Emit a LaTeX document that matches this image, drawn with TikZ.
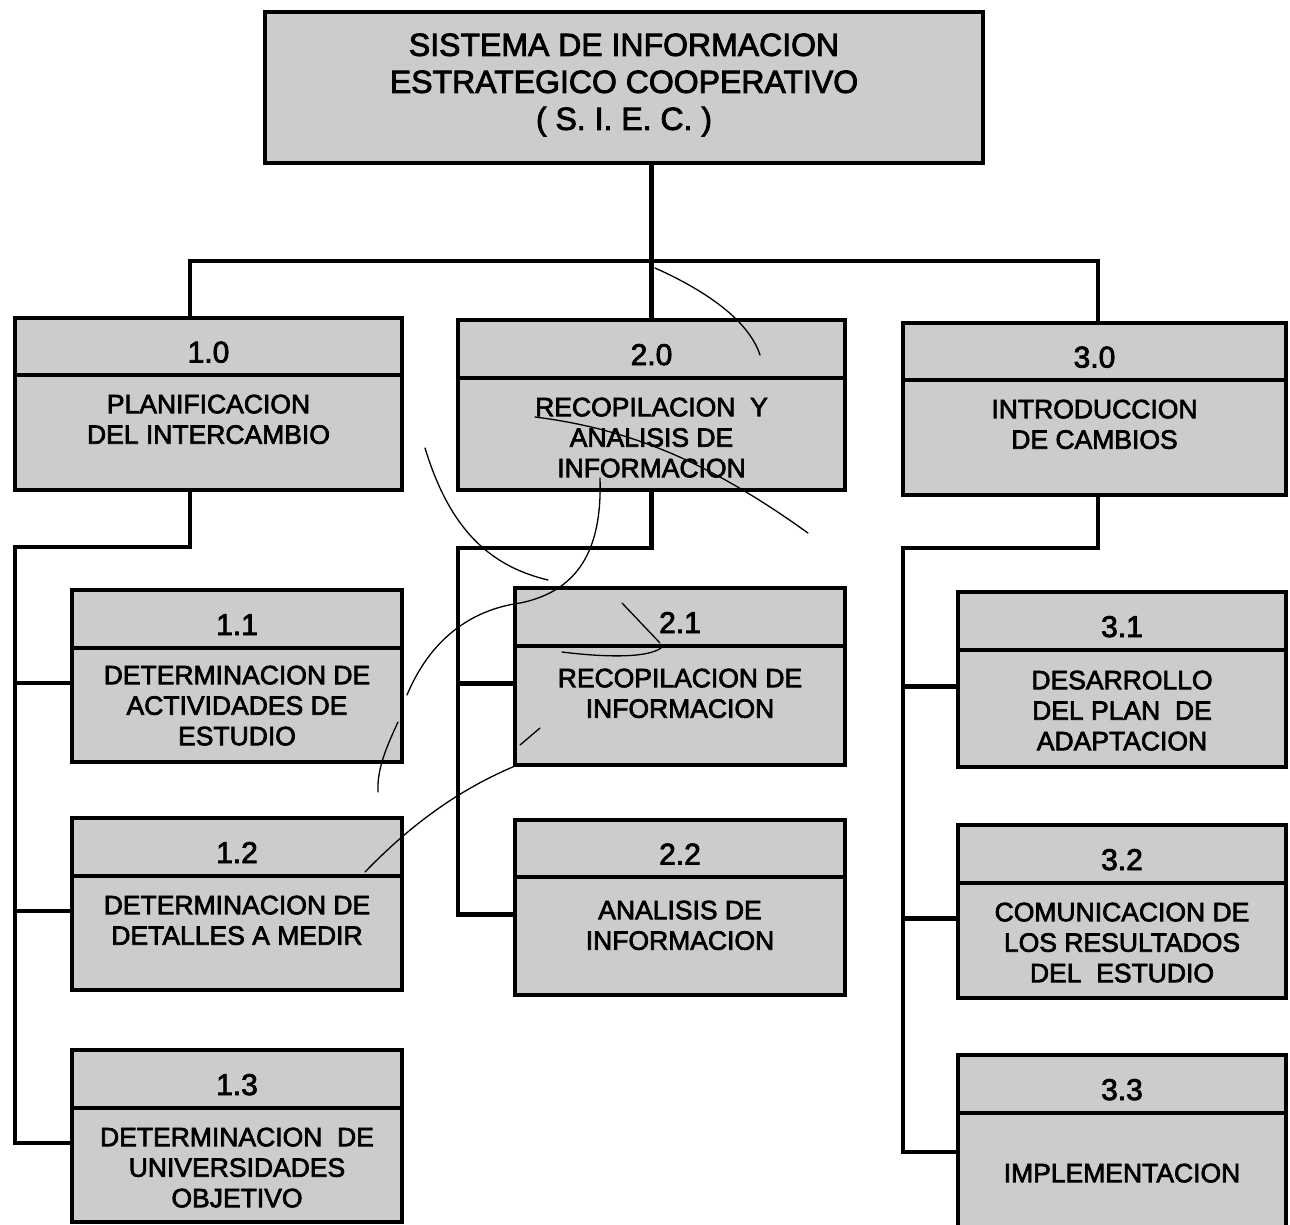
\documentclass[tikz,border=0pt]{standalone}
\usepackage{fontspec}
\setmainfont{Liberation Sans}[FakeBold=2.6]
\usetikzlibrary{calc}
\definecolor{boxgray}{gray}{0.8}

% one work-breakdown box: name, left, right, top, bottom, header line, number, text, first-line offset
\newcommand{\wbsbox}[9]{%
  \node[boxbody, minimum width={#3-#2}, minimum height={#5-#4}] (#1) at ({(#2+#3)/2},{(#4+#5)/2}) {};
  \node[boxhead, minimum width={#3-#2}, minimum height={#6-#4}, anchor=north] (#1-h) at (#1.north) {#7};
  \node[boxtext] (#1-t) at ({(#2+#3)/2},{#6+#9-9.5}) {#8};
  \coordinate (#1-j) at ($(#1.west)+(0,7)$);
}

\begin{document}
\begin{tikzpicture}[x=1pt,y=-1pt,
  boxbody/.style={draw, line width=4.8pt, fill=boxgray, outer sep=0pt, inner sep=0pt},
  boxhead/.style={draw, line width=4.8pt, outer sep=0pt, inner sep=0pt,
    text height=32pt, text depth=0pt, font=\fontsize{30}{36}\selectfont},
  boxtext/.style={inner sep=0pt, align=center, anchor=north, font=\fontsize{26.5}{30.5}\selectfont},
  conn/.style={line width=4.8pt, line join=miter},
  scribble/.style={line width=1.3pt, line cap=round}
]
\fill[white] (0,0) rectangle (1290,1224);
\useasboundingbox (0,0) rectangle (1290,1224);

% root
\node[boxbody, minimum width=718, minimum height=151] (top) at (624,87.5) {};
\node[inner sep=0pt, align=center, font=\fontsize{32}{37}\selectfont] (top-t) at (624,85)
  {SISTEMA DE INFORMACION\\ESTRATEGICO COOPERATIVO\\( S. I. E. C. )};

% level 1
\wbsbox{b10}{15}{402}{318}{490}{375}{1.0}{PLANIFICACION\\DEL INTERCAMBIO}{29}
\wbsbox{b20}{458}{845}{320}{490}{378}{2.0}{RECOPILACION\ \ Y\\ANALISIS DE\\INFORMACION}{29}
\wbsbox{b30}{903}{1286}{323}{495}{380}{3.0}{INTRODUCCION\\DE CAMBIOS}{29}

% level 2
\wbsbox{b11}{72}{402}{590}{762}{648}{1.1}{DETERMINACION DE\\ACTIVIDADES DE\\ESTUDIO}{27}
\wbsbox{b12}{72}{402}{818}{990}{876}{1.2}{DETERMINACION DE\\DETALLES A MEDIR}{29}
\wbsbox{b13}{72}{402}{1050}{1222}{1108}{1.3}{DETERMINACION\ \ DE\\UNIVERSIDADES\\OBJETIVO}{29}
\wbsbox{b21}{515}{845}{588}{765}{646}{2.1}{RECOPILACION DE\\INFORMACION}{32}
\wbsbox{b22}{515}{845}{820}{995}{877}{2.2}{ANALISIS DE\\INFORMACION}{33}
\wbsbox{b31}{958}{1286}{592}{767}{650}{3.1}{DESARROLLO\\DEL PLAN\ \ DE\\ADAPTACION}{30}
\wbsbox{b32}{958}{1286}{825}{998}{883}{3.2}{COMUNICACION DE\\LOS RESULTADOS\\DEL\ \ ESTUDIO}{29}
\wbsbox{b33}{958}{1286}{1055}{1235}{1113}{3.3}{IMPLEMENTACION}{60}

% root to level 1
\coordinate (busL) at (190,261);
\coordinate (busR) at (1098,261);
\draw[conn] (b20.north) -- (b20.north |- top.south);
\draw[conn] (b10.north -| busL) -- (busL) -- (busR) -- (b30.north -| busR);

% branch 1
\coordinate (k1) at (190,547);
\coordinate (sp1) at (15,547);
\draw[conn] (b10.south -| k1) -- (k1) -- (sp1) |- (b13-j);
\draw[conn] (b11-j) -- (sp1 |- b11-j);
\draw[conn] (b12-j) -- (sp1 |- b12-j);

% branch 2
\coordinate (sp2) at (458,548);
\draw[conn] (b20.south) -- (b20.south |- sp2) -- (sp2) |- (b22-j);
\draw[conn] (b21-j) -- (sp2 |- b21-j);

% branch 3
\coordinate (k3) at (1098,548);
\coordinate (sp3) at (903,548);
\draw[conn] (b30.south -| k3) -- (k3) -- (sp3) |- (b33-j);
\draw[conn] (b31-j) -- (sp3 |- b31-j);
\draw[conn] (b32-j) -- (sp3 |- b32-j);

% pen strokes over the chart
\draw[scribble] (655,268) .. controls (700,288) and (748,318) .. (760,355);
\draw[scribble] (425,448) .. controls (450,530) and (490,566) .. (548,580);
\draw[scribble] (600,478) .. controls (602,540) and (585,590) .. (520,603)
  .. controls (470,610) and (430,640) .. (407,695);
\draw[scribble] (398,722) .. controls (385,750) and (377,770) .. (378,792);
\draw[scribble] (515,766) .. controls (470,785) and (420,815) .. (365,872);
\draw[scribble] (535,417) .. controls (640,430) and (720,470) .. (808,533);
\draw[scribble] (622,603) -- (660,643);
\draw[scribble] (562,652) .. controls (610,658) and (655,658) .. (664,645);
\draw[scribble] (540,728) -- (520,745);
\end{tikzpicture}
\end{document}
